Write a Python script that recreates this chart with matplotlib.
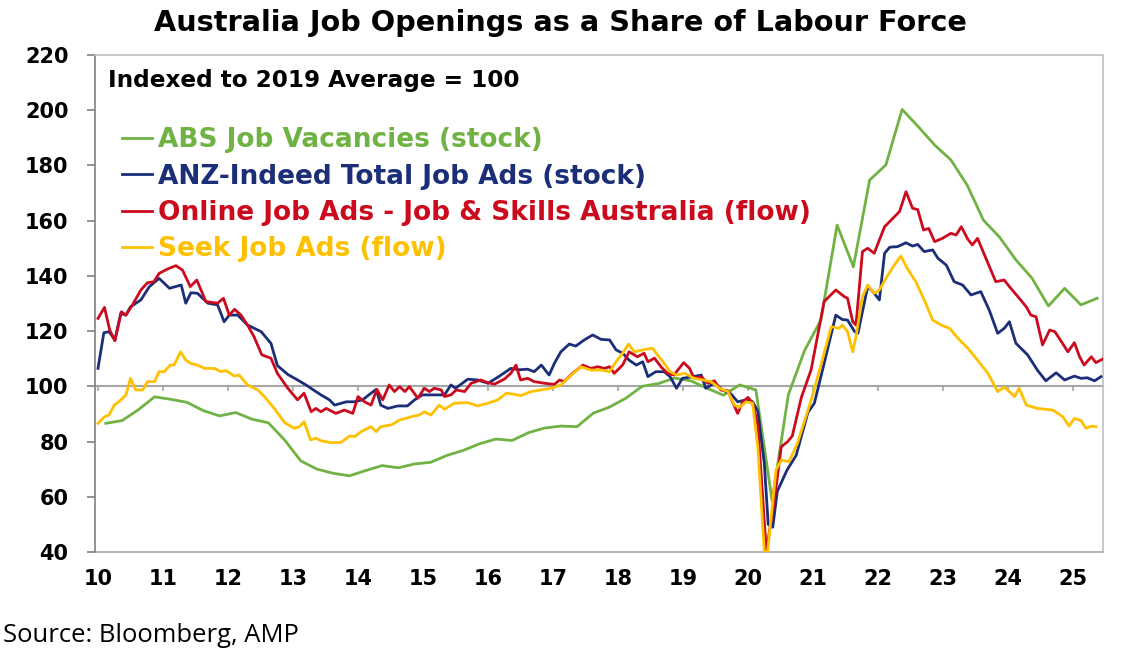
import matplotlib
matplotlib.use("Agg")
import matplotlib.pyplot as plt
from matplotlib.lines import Line2D

# ---------------- data (decimal years, index 2019 avg = 100) ----------------
abs_t = [2010.12 + 0.25 * i for i in range(62)]
abs_v = [86.6, 87.6, 91.5, 96.2, 95.3, 94.2, 91.2, 89.3, 90.5, 88.1,
         86.8, 80.6, 73.0, 70.0, 68.5, 67.6, 69.5, 71.3, 70.5, 71.9,
         72.5, 75.0, 76.8, 79.2, 80.9, 80.4, 83.2, 84.9, 85.6, 85.4,
         90.3, 92.5, 95.7, 100.0, 101.0, 103.0, 102.0, 99.3, 96.8, 100.5,
         98.7, 58.5, 97.0, 113.0, 124.0, 158.4, 143.3, 174.7, 180.2, 200.3,
         194.0, 187.4, 182.0, 172.9, 160.2, 154.0, 145.8, 139.1, 129.1, 135.5,
         129.5, 131.9]

anz_t = [2010.00, 2010.09, 2010.17, 2010.26, 2010.35, 2010.43, 2010.50, 2010.66, 2010.79, 2010.94,
         2011.10, 2011.28, 2011.35, 2011.43, 2011.53, 2011.69, 2011.84, 2011.94, 2012.02, 2012.15,
         2012.30, 2012.51, 2012.66, 2012.76, 2012.92, 2013.07, 2013.20, 2013.30, 2013.43, 2013.56,
         2013.64, 2013.82, 2013.94, 2014.07, 2014.20, 2014.28, 2014.35, 2014.46, 2014.61, 2014.76,
         2014.87, 2014.99, 2015.17, 2015.33, 2015.43, 2015.50, 2015.69, 2015.84, 2016.00, 2016.15,
         2016.35, 2016.48, 2016.61, 2016.71, 2016.82, 2016.94, 2017.02, 2017.12, 2017.25, 2017.35,
         2017.48, 2017.61, 2017.74, 2017.87, 2017.97, 2018.07, 2018.17, 2018.28, 2018.38, 2018.46,
         2018.58, 2018.71, 2018.80, 2018.90, 2018.99, 2019.15, 2019.28, 2019.35, 2019.48, 2019.61,
         2019.74, 2019.84, 2019.97, 2020.07, 2020.15, 2020.25, 2020.31, 2020.38, 2020.45, 2020.60,
         2020.74, 2020.92, 2021.02, 2021.17, 2021.35, 2021.45, 2021.53, 2021.64, 2021.69, 2021.84,
         2021.92, 2022.02, 2022.10, 2022.18, 2022.30, 2022.43, 2022.53, 2022.61, 2022.71, 2022.84,
         2022.92, 2023.05, 2023.17, 2023.30, 2023.43, 2023.58, 2023.71, 2023.84, 2023.94, 2024.02,
         2024.12, 2024.30, 2024.45, 2024.58, 2024.74, 2024.87, 2025.02, 2025.12, 2025.22, 2025.33,
         2025.43]
anz_v = [106.5, 119.4, 119.8, 116.8, 126.4, 125.8, 128.8, 131.3, 136.1, 139.1,
         135.5, 136.7, 130.1, 133.9, 133.7, 130.1, 129.5, 123.4, 125.8, 125.8,
         122.2, 119.8, 115.6, 107.5, 104.3, 102.3, 100.5, 98.9, 96.9, 95.1,
         93.2, 94.4, 94.4, 95.1, 97.5, 98.9, 93.2, 92.0, 92.9, 92.9,
         95.1, 96.9, 96.9, 96.9, 100.5, 99.3, 102.6, 102.3, 101.1, 103.3,
         106.5, 106.0, 106.2, 105.3, 107.7, 104.1, 108.3, 112.5, 115.3, 114.6,
         116.8, 118.6, 117.0, 116.8, 113.2, 112.0, 109.5, 107.7, 108.9, 103.5,
         105.3, 105.3, 103.5, 99.3, 102.9, 103.5, 104.1, 99.3, 101.1, 98.7,
         97.2, 94.4, 95.1, 94.4, 91.0, 72.0, 50.0, 49.0, 62.0, 69.7,
         75.0, 90.5, 93.9, 108.3, 125.8, 124.2, 124.0, 119.8, 119.2, 136.1,
         134.3, 131.3, 148.2, 150.4, 150.6, 152.0, 150.8, 151.4, 148.8, 149.4,
         146.4, 143.9, 137.9, 136.7, 133.1, 134.3, 127.6, 119.2, 121.0, 123.4,
         115.6, 111.4, 105.9, 102.0, 104.9, 102.3, 103.7, 102.9, 103.1, 102.0,
         103.5]

ija_t = [2010.00, 2010.10, 2010.18, 2010.26, 2010.36, 2010.43, 2010.53, 2010.66, 2010.76, 2010.86,
         2010.94, 2011.07, 2011.20, 2011.30, 2011.42, 2011.52, 2011.66, 2011.84, 2011.93, 2012.02,
         2012.10, 2012.20, 2012.30, 2012.40, 2012.52, 2012.66, 2012.76, 2012.92, 2013.07, 2013.17,
         2013.28, 2013.35, 2013.43, 2013.51, 2013.66, 2013.79, 2013.92, 2014.00, 2014.10, 2014.20,
         2014.29, 2014.38, 2014.48, 2014.56, 2014.64, 2014.72, 2014.79, 2014.92, 2015.02, 2015.10,
         2015.17, 2015.28, 2015.33, 2015.43, 2015.51, 2015.64, 2015.74, 2015.89, 2016.00, 2016.10,
         2016.25, 2016.35, 2016.43, 2016.50, 2016.61, 2016.71, 2016.87, 2017.02, 2017.10, 2017.17,
         2017.30, 2017.46, 2017.58, 2017.69, 2017.79, 2017.87, 2017.94, 2018.07, 2018.17, 2018.30,
         2018.40, 2018.46, 2018.56, 2018.66, 2018.76, 2018.86, 2019.01, 2019.10, 2019.17, 2019.28,
         2019.38, 2019.48, 2019.58, 2019.69, 2019.76, 2019.84, 2019.92, 2020.00, 2020.07, 2020.15,
         2020.28, 2020.40, 2020.51, 2020.61, 2020.68, 2020.82, 2020.97, 2021.17, 2021.35, 2021.48,
         2021.53, 2021.61, 2021.66, 2021.76, 2021.84, 2021.94, 2022.10, 2022.23, 2022.33, 2022.43,
         2022.53, 2022.61, 2022.70, 2022.78, 2022.87, 2022.99, 2023.12, 2023.20, 2023.28, 2023.38,
         2023.45, 2023.53, 2023.69, 2023.81, 2023.94, 2024.02, 2024.15, 2024.28, 2024.35, 2024.43,
         2024.53, 2024.64, 2024.72, 2024.82, 2024.92, 2025.02, 2025.10, 2025.17, 2025.28, 2025.35,
         2025.45]
ija_v = [124.6, 128.6, 120.4, 116.5, 127.0, 125.8, 129.5, 134.9, 137.5, 137.9,
         140.9, 142.5, 143.7, 142.1, 136.1, 138.5, 130.7, 130.1, 131.9, 125.8,
         127.9, 125.8, 122.2, 118.0, 111.4, 110.2, 104.7, 99.3, 95.1, 97.5,
         90.8, 92.0, 90.8, 92.0, 90.2, 91.4, 90.2, 96.3, 94.4, 93.2,
         98.9, 95.1, 100.5, 98.1, 99.9, 98.1, 99.9, 95.7, 99.3, 98.1,
         99.3, 98.7, 96.3, 96.9, 98.7, 98.1, 101.1, 102.3, 101.3, 100.8,
         102.6, 104.7, 107.7, 102.3, 102.9, 101.7, 101.1, 100.7, 102.3, 101.7,
         104.7, 107.7, 106.5, 107.1, 106.5, 107.1, 104.7, 107.7, 112.5, 110.7,
         112.0, 108.9, 110.2, 107.1, 104.7, 104.1, 108.6, 106.5, 102.9, 103.5,
         101.1, 102.0, 98.7, 98.4, 94.4, 90.2, 94.4, 96.0, 93.9, 86.0,
         40.5, 57.7, 78.1, 80.0, 82.0, 96.0, 106.0, 130.7, 134.9, 132.5,
         131.9, 123.4, 122.2, 148.8, 150.0, 148.2, 157.8, 160.9, 163.3, 170.5,
         164.5, 164.0, 156.6, 157.2, 152.4, 153.6, 155.4, 154.8, 157.8, 153.3,
         151.2, 153.6, 144.6, 137.9, 138.5, 136.1, 132.5, 128.8, 125.8, 125.2,
         115.0, 120.4, 119.8, 116.2, 112.5, 115.8, 110.7, 107.7, 110.7, 108.6,
         109.8]

seek_t = [2010.00, 2010.10, 2010.17, 2010.25, 2010.35, 2010.43, 2010.50, 2010.58, 2010.69, 2010.76,
          2010.87, 2010.94, 2011.02, 2011.11, 2011.17, 2011.27, 2011.35, 2011.43, 2011.53, 2011.64,
          2011.79, 2011.89, 2011.97, 2012.10, 2012.17, 2012.30, 2012.46, 2012.56, 2012.71, 2012.87,
          2013.02, 2013.10, 2013.17, 2013.27, 2013.35, 2013.43, 2013.58, 2013.74, 2013.87, 2013.95,
          2014.05, 2014.20, 2014.28, 2014.35, 2014.51, 2014.64, 2014.82, 2014.94, 2015.02, 2015.12,
          2015.25, 2015.33, 2015.48, 2015.69, 2015.84, 2016.00, 2016.15, 2016.28, 2016.41, 2016.50,
          2016.66, 2016.82, 2016.97, 2017.12, 2017.28, 2017.43, 2017.58, 2017.74, 2017.87, 2017.97,
          2018.07, 2018.16, 2018.25, 2018.38, 2018.53, 2018.63, 2018.71, 2018.80, 2018.90, 2019.03,
          2019.17, 2019.30, 2019.43, 2019.56, 2019.69, 2019.79, 2019.87, 2019.97, 2020.07, 2020.15,
          2020.25, 2020.30, 2020.43, 2020.51, 2020.63, 2020.76, 2020.97, 2021.10, 2021.28, 2021.40,
          2021.45, 2021.53, 2021.61, 2021.66, 2021.76, 2021.84, 2021.94, 2022.02, 2022.15, 2022.25,
          2022.35, 2022.45, 2022.58, 2022.71, 2022.84, 2022.97, 2023.10, 2023.23, 2023.38, 2023.53,
          2023.69, 2023.84, 2023.94, 2024.02, 2024.10, 2024.17, 2024.28, 2024.45, 2024.69, 2024.84,
          2024.94, 2025.02, 2025.12, 2025.20, 2025.28, 2025.35]
seek_v = [86.6, 89.0, 89.6, 93.2, 95.0, 96.9, 102.9, 98.7, 98.7, 101.7,
          101.7, 105.3, 105.3, 107.7, 107.7, 112.5, 109.5, 108.3, 107.7, 106.5,
          106.5, 105.3, 105.7, 103.7, 104.1, 100.5, 98.7, 96.3, 92.0, 86.9,
          84.8, 85.4, 87.2, 80.6, 81.2, 80.3, 79.6, 79.7, 82.0, 81.8,
          83.6, 85.4, 83.6, 85.4, 86.0, 87.8, 89.0, 89.6, 90.8, 89.6,
          93.2, 91.7, 93.9, 94.1, 92.9, 93.9, 95.1, 97.5, 97.1, 96.6,
          98.1, 98.7, 99.3, 100.5, 104.1, 107.1, 105.9, 105.9, 105.3, 108.9,
          112.0, 115.3, 112.5, 113.2, 113.8, 110.7, 108.3, 105.3, 104.1, 104.7,
          102.9, 102.3, 101.7, 99.3, 98.1, 93.2, 92.4, 94.4, 93.9, 78.0,
          40.2, 40.0, 69.7, 73.3, 72.7, 79.4, 95.0, 105.9, 121.6, 121.0,
          122.2, 119.8, 112.5, 118.0, 132.5, 136.7, 133.7, 134.9, 140.3, 143.9,
          147.2, 142.7, 137.9, 131.3, 124.0, 122.2, 121.0, 117.4, 113.8, 109.5,
          104.7, 98.1, 99.7, 98.1, 96.3, 99.3, 93.2, 92.0, 91.4, 89.0,
          85.6, 88.4, 87.6, 84.8, 85.6, 85.4]

series_names = ["ABS Job Vacancies (stock)",
                "ANZ-Indeed Total Job Ads (stock)",
                "Online Job Ads - Job & Skills Australia (flow)",
                "Seek Job Ads (flow)"]
years = list(range(2010, 2026))
year_labels = [f"{y % 100:02d}" for y in years]
y_ticks = list(range(40, 221, 20))

# ---------------- style ----------------
C_GREEN = "#70B244"
C_NAVY = "#1B2E78"
C_RED = "#CC0A1E"
C_YELLOW = "#FFC000"
LW = 2.0
FONT = "DejaVu Sans"
W, H = 1137, 666

fig = plt.figure(figsize=(W / 100, H / 100), dpi=100)
fig.patch.set_facecolor("white")
ax = fig.add_axes([95 / W, 1 - 552 / H, (1103 - 95) / W, (552 - 55) / H])
renderer = fig.canvas.get_renderer()


def fit_width(txt, target_px):
    """rescale a text object so that its rendered width equals target_px"""
    w = txt.get_window_extent(renderer).width
    txt.set_fontsize(txt.get_fontsize() * target_px / w)


ax.plot(abs_t, abs_v, color=C_GREEN, lw=LW, zorder=3, solid_joinstyle="round")
ax.plot(anz_t, anz_v, color=C_NAVY, lw=LW, zorder=4, solid_joinstyle="round")
ax.plot(ija_t, ija_v, color=C_RED, lw=LW, zorder=5, solid_joinstyle="round")
ax.plot(seek_t, seek_v, color=C_YELLOW, lw=LW, zorder=6, solid_joinstyle="round")

ax.set_xlim(2009.954, 2025.46)
ax.set_ylim(40, 220)

# y axis
ax.set_yticks(y_ticks)
ax.set_yticklabels([str(v) for v in y_ticks], fontfamily=FONT, fontweight="bold", fontsize=15)
ax.tick_params(axis="y", direction="out", length=6, width=1.2, color="#7F7F7F", pad=13)

# x axis line at 100 with tick marks
ax.spines["bottom"].set_position(("data", 100))
ax.spines["bottom"].set_color("#A6A6A6")
ax.spines["bottom"].set_linewidth(1.5)
ax.spines["bottom"].set_zorder(2)
ax.set_xticks(years)
ax.tick_params(axis="x", direction="out", length=3.8, width=1.2, color="#A6A6A6",
               labelbottom=False)

for s in ["top", "right"]:
    ax.spines[s].set_color("#BFBFBF")
    ax.spines[s].set_linewidth(1.2)
ax.spines["left"].set_color("#7F7F7F")
ax.spines["left"].set_linewidth(1.2)

sec = ax.secondary_xaxis(0)
sec.set_xticks(years)
sec.set_xticklabels(year_labels, fontfamily=FONT, fontweight="bold", fontsize=15)
sec.tick_params(axis="x", length=0, pad=12)
sec.spines["bottom"].set_color("#A6A6A6")
sec.spines["bottom"].set_linewidth(1.2)

# legend: font size chosen so the label widths match the reference
tmp = [fig.text(0, 0, s, fontfamily=FONT, fontweight="bold", fontsize=16) for s in series_names]
tot = sum(t.get_window_extent(renderer).width for t in tmp)
for t in tmp:
    t.remove()
LEG_FS = 16 * (395 + 488 + 636 + 300) / tot
fs_px = LEG_FS * 100 / 72
row_pitch = 36.7
handles = [Line2D([], [], color=c, lw=LW) for c in (C_GREEN, C_NAVY, C_RED, C_YELLOW)]
leg = ax.legend(handles, series_names, loc="upper left",
                bbox_to_anchor=((122 - 95) / 1008, (552 - (140.5 - 0.5 * fs_px)) / 497),
                frameon=False, handlelength=30 / fs_px, handletextpad=6 / fs_px,
                labelspacing=(row_pitch - 1.0 * fs_px) / fs_px, borderpad=0, borderaxespad=0,
                prop={"family": FONT, "weight": "bold", "size": LEG_FS},
                labelcolor="linecolor")

t_idx = ax.text((108 - 95) / 1008, (552 - 80) / 497, "Indexed to 2019 Average = 100",
                transform=ax.transAxes, ha="left", va="center",
                fontfamily=FONT, fontweight="bold", fontsize=16, color="black")
fit_width(t_idx, 412)

t_title = fig.text(560 / W, 1 - 23 / H, "Australia Job Openings as a Share of Labour Force",
                   ha="center", va="center", fontfamily=FONT, fontweight="bold",
                   fontsize=19.5, color="black")
fit_width(t_title, 815)

t_src = fig.text(3 / W, 1 - 635 / H, "Source: Bloomberg, AMP", ha="left", va="center",
                 fontfamily="Open Sans", fontsize=17, color="black")
fit_width(t_src, 297)

fig.savefig("out.png", dpi=100, facecolor="white")
